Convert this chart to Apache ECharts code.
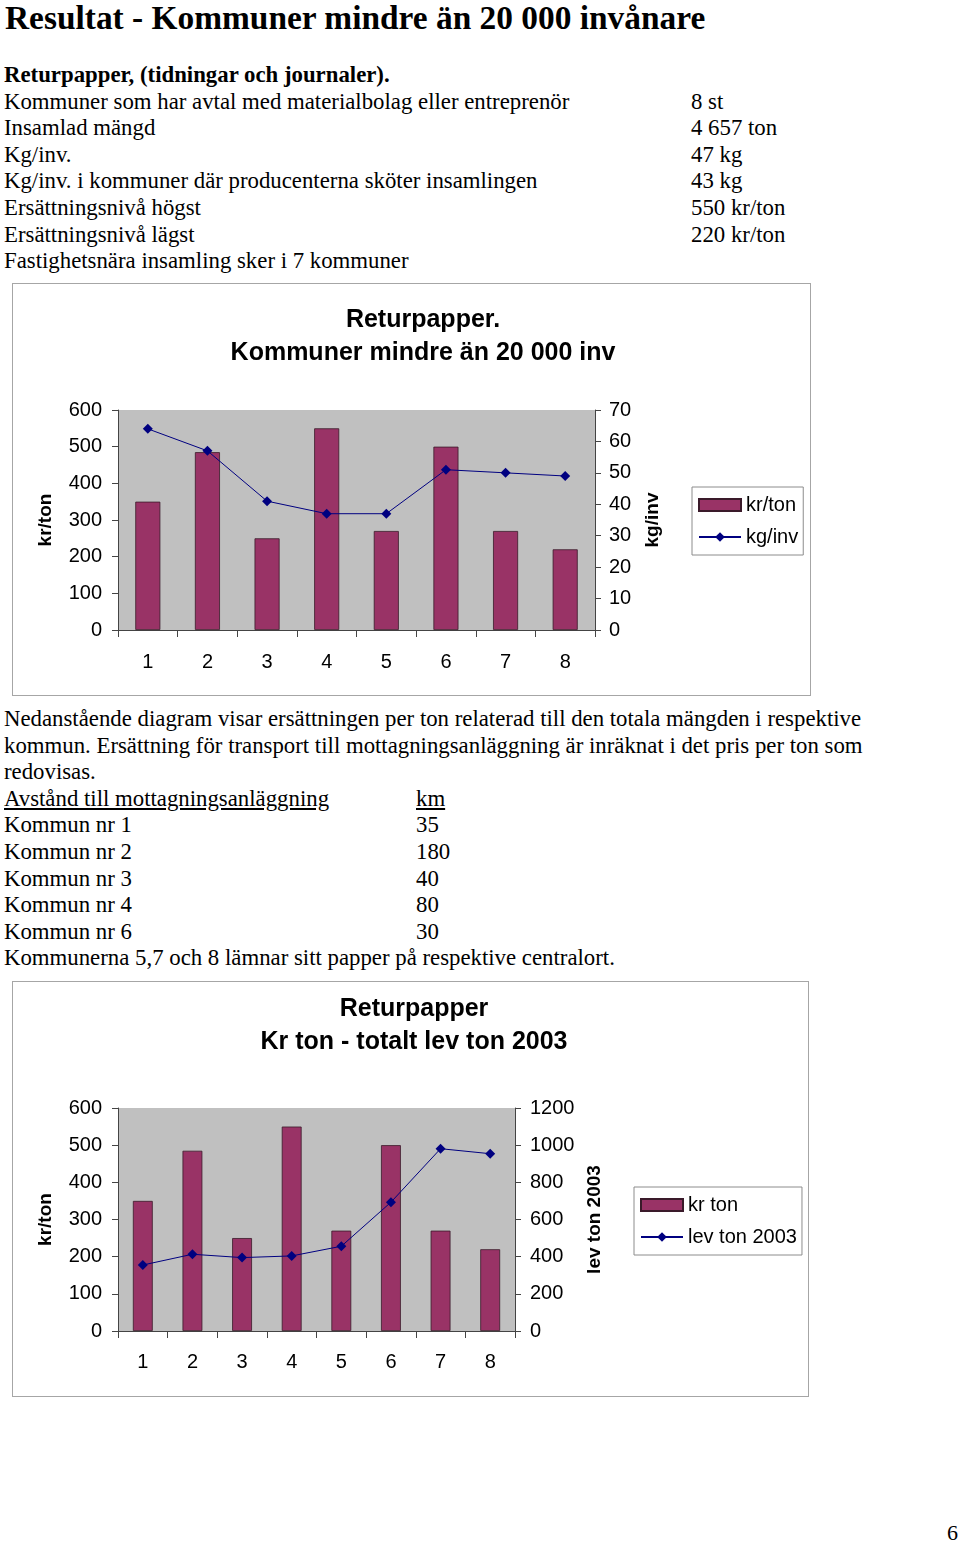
<!DOCTYPE html>
<html>
<head>
<meta charset="utf-8">
<script src="https://cdn.jsdelivr.net/npm/echarts@6/dist/echarts.min.js"></script>
<style>
  html, body { margin:0; padding:0; background:#fff; }
  body { width:960px; height:1543px; position:relative; overflow:hidden; font-family:"Liberation Serif","Times New Roman",serif; color:#000; }
  .h1 { position:absolute; left:5px; top:-1px; font-size:33.4px; font-weight:bold; white-space:nowrap; }
  .blk { position:absolute; left:4px; font-size:22.8px; line-height:26.6px; white-space:nowrap; }
  .row { position:relative; height:26.6px; }
  .val { position:absolute; top:0; }
  .box { position:absolute; border:1px solid #a6a6a6; background:#fff; }
  .u { text-decoration:underline; }
  .pg { position:absolute; left:947px; top:1520px; font-size:22px; }
</style>
</head>
<body>
<div class="h1">Resultat - Kommuner mindre än 20 000 invånare</div>

<div class="blk" style="top:62px;">
  <div class="row"><b>Returpapper, (tidningar och journaler).</b></div>
  <div class="row">Kommuner som har avtal med materialbolag eller entreprenör<span class="val" style="left:687px;">8 st</span></div>
  <div class="row">Insamlad mängd<span class="val" style="left:687px;">4 657 ton</span></div>
  <div class="row">Kg/inv.<span class="val" style="left:687px;">47 kg</span></div>
  <div class="row">Kg/inv. i kommuner där producenterna sköter insamlingen<span class="val" style="left:687px;">43 kg</span></div>
  <div class="row">Ersättningsnivå högst<span class="val" style="left:687px;">550 kr/ton</span></div>
  <div class="row">Ersättningsnivå lägst<span class="val" style="left:687px;">220 kr/ton</span></div>
  <div class="row">Fastighetsnära insamling sker i 7 kommuner</div>
</div>

<div class="box" style="left:12px; top:283px; width:797px; height:411px;"><div id="c1" style="width:797px;height:411px;"></div></div>

<div class="blk" style="top:706px;">
  <div class="row">Nedanstående diagram visar ersättningen per ton relaterad till den totala mängden i respektive</div>
  <div class="row">kommun. Ersättning för transport till mottagningsanläggning är inräknat i det pris per ton som</div>
  <div class="row">redovisas.</div>
  <div class="row"><span class="u">Avstånd till mottagningsanläggning</span><span class="val u" style="left:412px;">km</span></div>
  <div class="row">Kommun nr 1<span class="val" style="left:412px;">35</span></div>
  <div class="row">Kommun nr 2<span class="val" style="left:412px;">180</span></div>
  <div class="row">Kommun nr 3<span class="val" style="left:412px;">40</span></div>
  <div class="row">Kommun nr 4<span class="val" style="left:412px;">80</span></div>
  <div class="row">Kommun nr 6<span class="val" style="left:412px;">30</span></div>
  <div class="row">Kommunerna 5,7 och 8 lämnar sitt papper på respektive centralort.</div>
</div>

<div class="box" style="left:12px; top:981px; width:795px; height:414px;"><div id="c2" style="width:795px;height:414px;"></div></div>

<div class="pg">6</div>

<script>
const categories = ['1','2','3','4','5','6','7','8'];
const krTon1 = [350, 485, 250, 550, 270, 500, 270, 220];
const kgInv = [64, 57, 41, 37, 37, 51, 50, 49];
const krTon2 = [350, 485, 250, 550, 270, 500, 270, 220];
const levTon2003 = [355, 413, 395, 404, 456, 693, 981, 954];
const leftTicks = { min: 0, max: 600, interval: 100 };
const right1Ticks = { min: 0, max: 70, interval: 10 };
const right2Ticks = { min: 0, max: 1200, interval: 200 };

const FONT = 'Liberation Sans, Arial, sans-serif';
const BAR = '#993366';
const LINE = '#000080';

function makeOption(cfg) {
  return {
    animation: false,
    textStyle: { fontFamily: FONT },
    title: {
      text: cfg.title,
      left: cfg.titleX, top: cfg.titleTop, textAlign: 'center',
      textStyle: { fontFamily: FONT, fontSize: 25, fontWeight: 'bold', color: '#000', lineHeight: 33 }
    },
    legend: {
      orient: 'vertical', left: cfg.legLeft, top: cfg.legTop,
      backgroundColor: '#fff', borderColor: '#8c8c8c', borderWidth: 1,
      padding: [8, 5, 8, 6], itemGap: 12, itemWidth: 42, itemHeight: 12,
      textStyle: { fontFamily: FONT, fontSize: 20, color: '#000' },
      data: [
        { name: cfg.barName, icon: 'rect' },
        { name: cfg.lineName }
      ]
    },
    grid: {
      left: 105, top: 126, width: cfg.gridW, height: cfg.gridH,
      show: true, backgroundColor: '#c0c0c0', borderWidth: 0
    },
    xAxis: {
      type: 'category', data: categories,
      axisLine: { lineStyle: { color: '#444', width: 1 } },
      axisTick: { show: true, length: 7, lineStyle: { color: '#444' } },
      axisLabel: { color: '#000', fontSize: 20, margin: cfg.xMargin, fontFamily: FONT }
    },
    yAxis: [
      {
        type: 'value', min: leftTicks.min, max: leftTicks.max, interval: leftTicks.interval,
        name: 'kr/ton', nameLocation: 'middle', nameGap: 63,
        nameTextStyle: { fontFamily: FONT, fontSize: 19, fontWeight: 'bold', color: '#000' },
        axisLine: { show: true, lineStyle: { color: '#444' } },
        axisTick: { show: true, length: 6, lineStyle: { color: '#444' } },
        axisLabel: { color: '#000', fontSize: 20, margin: 16, fontFamily: FONT },
        splitLine: { show: false }
      },
      {
        type: 'value', min: cfg.right.min, max: cfg.right.max, interval: cfg.right.interval,
        name: cfg.rightName, nameLocation: 'middle', nameGap: cfg.rightGap,
        nameTextStyle: { fontFamily: FONT, fontSize: 19, fontWeight: 'bold', color: '#000' },
        axisLine: { show: true, lineStyle: { color: '#444' } },
        axisTick: { show: true, length: 6, lineStyle: { color: '#444' } },
        axisLabel: { color: '#000', fontSize: 20, margin: cfg.rMargin, fontFamily: FONT, formatter: v => String(v) },
        splitLine: { show: false }
      }
    ],
    series: [
      {
        name: cfg.barName, type: 'bar', data: cfg.bars, barWidth: cfg.barW,
        itemStyle: { color: BAR, borderColor: '#3a1a2a', borderWidth: 0.8 }
      },
      {
        name: cfg.lineName, type: 'line', yAxisIndex: 1, data: cfg.line,
        symbol: 'diamond', symbolSize: 10,
        lineStyle: { color: LINE, width: 1 },
        itemStyle: { color: LINE }
      }
    ]
  };
}

echarts.init(document.getElementById('c1'), null, { renderer: 'canvas' }).setOption(makeOption({
  title: 'Returpapper.\nKommuner mindre än 20 000 inv', titleX: 405, titleTop: 15,
  legLeft: 679, legTop: 203, gridW: 477, gridH: 220, xMargin: 22, rMargin: 14,
  barName: 'kr/ton', lineName: 'kg/inv', bars: krTon1, line: kgInv,
  right: right1Ticks, rightName: 'kg/inv', rightGap: 48, barW: '42%'
}));

echarts.init(document.getElementById('c2'), null, { renderer: 'canvas' }).setOption(makeOption({
  title: 'Returpapper\nKr ton - totalt lev ton 2003', titleX: 396, titleTop: 6,
  legLeft: 621, legTop: 205, gridW: 397, gridH: 223, xMargin: 21, rMargin: 15,
  barName: 'kr ton', lineName: 'lev ton 2003', bars: krTon2, line: levTon2003,
  right: right2Ticks, rightName: 'lev ton 2003', rightGap: 70, barW: '40%'
}));
</script>
</body>
</html>
